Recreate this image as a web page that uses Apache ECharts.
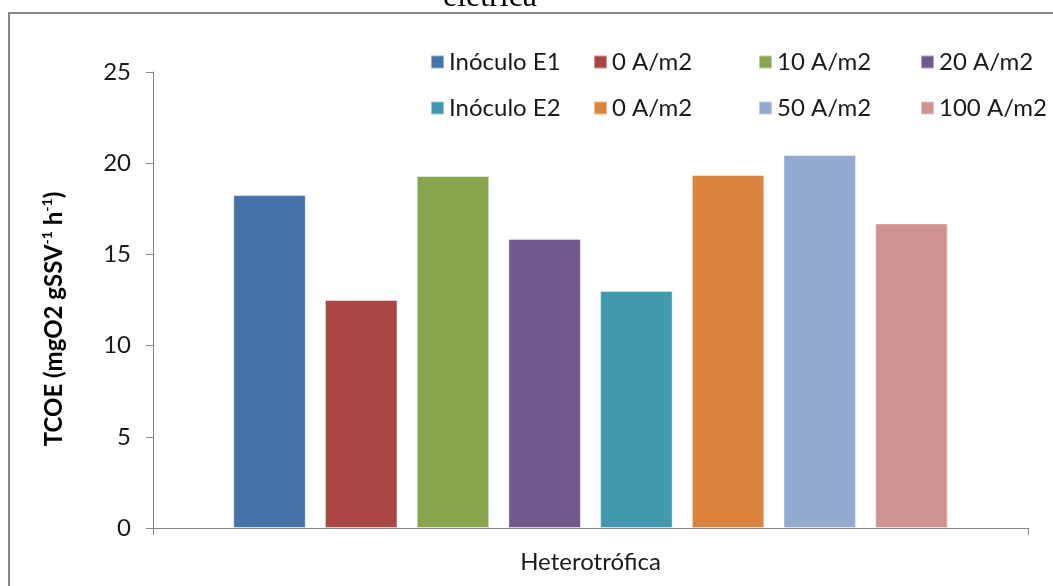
<!DOCTYPE html>
<html>
<head>
<meta charset="utf-8">
<script src="https://cdn.jsdelivr.net/npm/echarts@6/dist/echarts.min.js"></script>
<style>
html,body{margin:0;padding:0;background:#fff;}
#chart{width:1053px;height:586px;}
</style>
</head>
<body>
<div id="chart"></div>
<script>
const categories = ['Heterotrófica'];
const seriesNames = ['Inóculo E1', '0 A/m2', '10 A/m2', '20 A/m2', 'Inóculo E2', '0 A/m2', '50 A/m2', '100 A/m2'];
const seriesValues = [18.25, 12.5, 19.3, 15.85, 13.0, 19.35, 20.45, 16.7];
const seriesColors = ['#4572A7', '#AA4643', '#89A54E', '#71588F', '#4198AF', '#DB843D', '#93A9CF', '#D19392'];
const yTicks = [0, 5, 10, 15, 20, 25];
const yAxisTitle = 'TCOE (mgO2 gSSV{sup|-1} h{sup|-1})';
const topTitle = 'elétrica';

const FONT = 'Lato, "Noto Sans", sans-serif';
const keys = seriesNames.map((n, i) => n + '#' + i);

const legendCols = [0, 1, 2, 3].map(c => ({
  left: [425, 588, 753, 915][c],
  top: 45,
  orient: 'vertical',
  icon: 'rect',
  itemWidth: 13,
  itemHeight: 13,
  itemGap: 22,
  selectedMode: false,
  data: [keys[c], keys[c + 4]],
  formatter: n => n.split('#')[0],
  textStyle: { fontFamily: FONT, fontSize: 24, lineHeight: 24, color: '#1a1a1a' }
}));

const chart = echarts.init(document.getElementById('chart'), null, { renderer: 'canvas' });
chart.setOption({
  backgroundColor: '#fff',
  animation: false,
  graphic: [
    { type: 'rect', z: -10, shape: { x: 9, y: 13, width: 1100, height: 700 },
      style: { fill: 'none', stroke: '#878787', lineWidth: 2 } },
    { type: 'text', style: { text: topTitle, x: 490, y: 14, align: 'center', verticalAlign: 'bottom',
      fontFamily: '"Liberation Serif", serif', fontSize: 32, fontWeight: 'normal', fill: '#000' } }
  ],
  legend: legendCols,
  grid: { left: 153, right: 25, top: 72, bottom: 58, containLabel: false },
  xAxis: {
    type: 'category',
    data: categories,
    axisLine: { lineStyle: { color: '#868686', width: 1 } },
    axisTick: { show: true, length: 7, lineStyle: { color: '#868686' } },
    axisLabel: { fontFamily: FONT, fontSize: 24, color: '#1a1a1a', margin: 22 },
    splitLine: { show: false }
  },
  yAxis: {
    type: 'value',
    min: yTicks[0],
    max: yTicks[yTicks.length - 1],
    interval: 5,
    axisLine: { show: true, lineStyle: { color: '#868686', width: 1 } },
    axisTick: { show: true, length: 7, lineStyle: { color: '#868686' } },
    axisLabel: { fontFamily: FONT, fontSize: 24, color: '#1a1a1a', margin: 22 },
    splitLine: { show: false },
    name: yAxisTitle,
    nameLocation: 'middle',
    nameGap: 85,
    nameTextStyle: {
      fontFamily: FONT, fontSize: 24, fontWeight: 'bold', color: '#000', lineHeight: 28,
      padding: [0, 38, 0, 0],
      rich: { sup: { fontFamily: FONT, fontSize: 14, fontWeight: 'bold', color: '#000', verticalAlign: 'top', lineHeight: 28 } }
    }
  },
  series: keys.map((k, i) => ({
    name: k,
    type: 'bar',
    barWidth: 72.5,
    barGap: '26.5%',
    itemStyle: { color: seriesColors[i], borderColor: 'rgba(255,255,255,0.45)', borderWidth: 1 },
    data: [seriesValues[i]]
  }))
});
</script>
</body>
</html>
